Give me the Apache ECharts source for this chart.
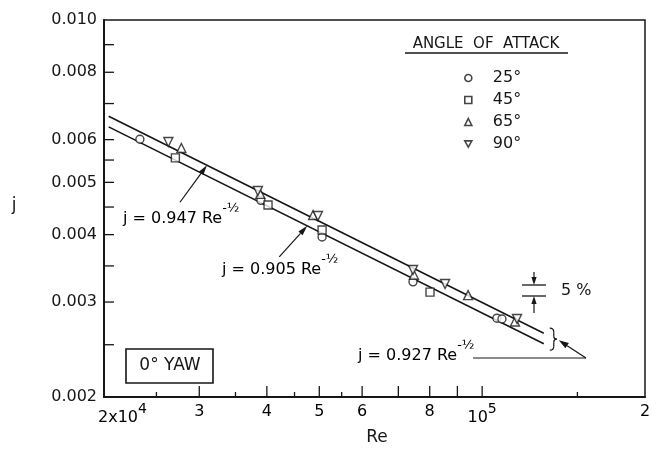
<!DOCTYPE html>
<html>
<head>
<meta charset="utf-8">
<script src="https://cdn.jsdelivr.net/npm/echarts@6/dist/echarts.min.js"></script>
<style>
html, body { margin: 0; padding: 0; background: #fff; }
#chart { width: 652px; height: 451px; }
</style>
</head>
<body>
<div id="chart"></div>
<script>
// Heat-transfer j factor versus Reynolds number, 0 deg yaw
const FONT = '"DejaVu Sans", sans-serif';
const INK = '#161616';

const reMin = 2e4, reMax = 2e5;
const jMin = 0.002, jMax = 0.010;

// Measured points by angle of attack
const re25 = [23300, 39000, 50600, 74500, 106500, 108800];
const j25  = [0.00601, 0.00463, 0.00396, 0.00327, 0.00280, 0.00279];
const re45 = [27100, 40200, 50600, 80100];
const j45  = [0.00555, 0.00454, 0.00408, 0.00313];
const re65 = [27800, 38900, 48700, 74800, 94200, 115000];
const j65  = [0.00579, 0.00476, 0.00435, 0.00337, 0.00309, 0.00276];
const re90 = [26300, 38500, 49700, 74500, 85400, 116000];
const j90  = [0.00594, 0.00482, 0.00433, 0.00344, 0.00324, 0.00279];

// Correlations j = C * Re^(-1/2)
const fitCoefs = [0.947, 0.905];
const fitReRange = [20400, 130000];

// Axis ticks and labels
const xTicksLong  = [30000, 40000, 50000, 60000, 70000, 80000, 90000, 100000];
const xTicksShort = [25000, 35000, 45000, 55000, 150000];
const xLabelValues = [20000, 30000, 40000, 50000, 60000, 80000, 100000, 200000];
const xLabelBase   = ['2x10', '3', '4', '5', '6', '8', '10', '2'];
const xLabelSup    = ['4', '', '', '', '', '', '5', ''];
const yTicks = [0.0025, 0.003, 0.0035, 0.004, 0.0045, 0.005, 0.0055, 0.006, 0.007, 0.008, 0.009];
const yLabelValues = [0.002, 0.003, 0.004, 0.005, 0.006, 0.008, 0.010];
const yLabelText   = ['0.002', '0.003', '0.004', '0.005', '0.006', '0.008', '0.010'];

const seriesNames = ['25°', '45°', '65°', '90°'];

const zip = (a, b) => a.map((v, i) => [v, b[i]]);

const chart = echarts.init(document.getElementById('chart'), null, { renderer: 'canvas' });

const markerStyle = { color: '#fff', borderColor: INK, borderWidth: 1.4 };

function scatter(name, re, j, symbol, size, rotate) {
  return {
    name: name, type: 'scatter', data: zip(re, j),
    symbol: symbol, symbolSize: size, symbolRotate: rotate || 0,
    itemStyle: markerStyle, z: 5, silent: true
  };
}

function fitLine(c) {
  return {
    type: 'line', silent: true, showSymbol: false, z: 3,
    data: fitReRange.map(r => [r, c / Math.sqrt(r)]),
    lineStyle: { color: INK, width: 1.6 }
  };
}

const downTriangle = 'path://M0,0 L10,0 L5,9 Z';

const option = {
  animation: false,
  backgroundColor: '#fff',
  grid: { left: 104, right: 7, top: 20, bottom: 54, show: true, borderColor: INK, borderWidth: 1.5 },
  xAxis: {
    type: 'log', logBase: 10, min: reMin, max: reMax,
    axisLine: { show: true, lineStyle: { color: INK, width: 2 } },
    axisTick: { show: false }, axisLabel: { show: false }, splitLine: { show: false }
  },
  yAxis: {
    type: 'log', logBase: 10, min: jMin, max: jMax,
    axisLine: { show: true, lineStyle: { color: INK, width: 2 } },
    axisTick: { show: false }, axisLabel: { show: false }, splitLine: { show: false }
  },
  legend: {
    data: [
      { name: seriesNames[0], icon: 'circle' },
      { name: seriesNames[1], icon: 'rect' },
      { name: seriesNames[2], icon: 'triangle' },
      { name: seriesNames[3], icon: downTriangle }
    ],
    orient: 'vertical', left: 459, top: 65,
    itemWidth: 7, itemHeight: 7, itemGap: 6,
    itemStyle: { color: '#fff', borderColor: INK, borderWidth: 1.6 },
    formatter: name => '{s|}{t|' + name + '}',
    textStyle: {
      color: INK, fontFamily: FONT, fontSize: 16, lineHeight: 16,
      rich: { s: { width: 16 }, t: { fontFamily: FONT, fontSize: 16, color: INK } }
    },
    selectedMode: false
  },
  series: [
    fitLine(fitCoefs[0]),
    fitLine(fitCoefs[1]),
    scatter(seriesNames[0], re25, j25, 'circle', 8),
    scatter(seriesNames[1], re45, j45, 'rect', 8),
    scatter(seriesNames[2], re65, j65, 'triangle', 9),
    scatter(seriesNames[3], re90, j90, 'triangle', 9, 180),
    {
      // inward ticks on the Re axis
      type: 'custom', silent: true, clip: false, z: 6,
      data: xTicksLong.map(v => [v, 1]).concat(xTicksShort.map(v => [v, 0])),
      renderItem: (params, api) => {
        const p = api.coord([api.value(0), jMin]);
        const len = api.value(1) ? 11 : 5;
        return { type: 'line', shape: { x1: p[0], y1: p[1], x2: p[0], y2: p[1] - len },
                 style: { stroke: INK, lineWidth: 1.3 } };
      }
    },
    {
      // inward ticks on the j axis
      type: 'custom', silent: true, clip: false, z: 6,
      data: yTicks.map(v => [reMin, v]),
      renderItem: (params, api) => {
        const p = api.coord([reMin, api.value(1)]);
        return { type: 'line', shape: { x1: p[0], y1: p[1], x2: p[0] + 10, y2: p[1] },
                 style: { stroke: INK, lineWidth: 1.3 } };
      }
    },
    {
      // Re tick labels
      type: 'custom', silent: true, clip: false, z: 6,
      data: xLabelValues.map((v, i) => [v, jMin, i]),
      renderItem: (params, api) => {
        const i = api.value(2);
        const p = api.coord([api.value(0), jMin]);
        const base = xLabelBase[i], sup = xLabelSup[i];
        const first = i === 0;
        return {
          type: 'text',
          x: first ? p[0] - 6 : p[0], y: p[1] + (sup ? 17 : 15),
          style: {
            text: '{b|' + base + '}' + (sup ? '{s|' + sup + '}' : ''),
            align: first ? 'left' : 'center', verticalAlign: 'middle',
            rich: {
              b: { fontFamily: FONT, fontSize: 16, color: INK, lineHeight: sup ? 24 : 16, verticalAlign: sup ? 'bottom' : 'middle' },
              s: { fontFamily: FONT, fontSize: 14, color: INK, lineHeight: 16, verticalAlign: 'top' }
            }
          }
        };
      }
    },
    {
      // j tick labels
      type: 'custom', silent: true, clip: false, z: 6,
      data: yLabelValues.map((v, i) => [reMin, v, i]),
      renderItem: (params, api) => {
        const p = api.coord([reMin, api.value(1)]);
        return {
          type: 'text', x: p[0] - 7, y: p[1],
          style: { text: yLabelText[api.value(2)], font: '16px ' + FONT, fill: INK,
                   align: 'right', verticalAlign: 'middle' }
        };
      }
    }
  ]
};

chart.setOption(option);

// Annotations placed relative to the plotted correlations
const px = (re, j) => chart.convertToPixel({ xAxisIndex: 0, yAxisIndex: 0 }, [re, j]);
const onFit = (c, re) => px(re, c / Math.sqrt(re));

function arrow(x0, y0, x1, y1, headLen, headW) {
  const dx = x1 - x0, dy = y1 - y0, L = Math.hypot(dx, dy);
  const ux = dx / L, uy = dy / L;
  const bx = x1 - ux * headLen, by = y1 - uy * headLen;
  return [
    { type: 'line', shape: { x1: x0, y1: y0, x2: bx, y2: by }, style: { stroke: INK, lineWidth: 1.2 } },
    { type: 'polygon', shape: { points: [[x1, y1], [bx - uy * headW, by + ux * headW], [bx + uy * headW, by - ux * headW]] },
      style: { fill: INK } }
  ];
}

function eqLabel(x, y, coef) {
  return {
    type: 'text', x: x, y: y,
    style: {
      text: '{m|j = ' + coef + ' Re}{s|-½}',
      align: 'left', verticalAlign: 'middle',
      rich: {
        m: { fontFamily: FONT, fontSize: 16, color: INK, lineHeight: 34 },
        s: { fontFamily: FONT, fontSize: 13, color: INK, lineHeight: 13, verticalAlign: 'top' }
      }
    }
  };
}

function curve(x1, y1, cx, cy, x2, y2) {
  return { type: 'bezierCurve', shape: { x1: x1, y1: y1, cpx1: cx, cpy1: cy, x2: x2, y2: y2 },
           style: { stroke: INK, fill: null, lineWidth: 1.2 } };
}
function seg(x1, y1, x2, y2, w) {
  return { type: 'line', shape: { x1: x1, y1: y1, x2: x2, y2: y2 }, style: { stroke: INK, lineWidth: w || 1.2 } };
}

const tipUpper = onFit(fitCoefs[0], 31000);
const tipLower = onFit(fitCoefs[1], 47500);
const endMid = px(fitReRange[1], 0.927 / Math.sqrt(fitReRange[1]));

const bx = endMid[0] + 6, by = endMid[1] + 1;
const pctX = 522, pctTop = 285, pctGap = 11;

const graphics = []
  .concat(arrow(tipUpper[0] - 27, tipUpper[1] + 37, tipUpper[0], tipUpper[1], 10, 2.8))
  .concat(arrow(tipLower[0] - 28, tipLower[1] + 31, tipLower[0], tipLower[1], 10, 2.8))
  .concat([
    eqLabel(123, 219, '0.947'),
    eqLabel(222, 270, '0.905'),
    eqLabel(358, 356, '0.927'),
    // brace grouping both correlations
    curve(bx, by - 11, bx + 4, by - 11, bx + 4, by - 7),
    seg(bx + 4, by - 7, bx + 4, by - 3),
    curve(bx + 4, by - 3, bx + 4, by, bx + 7, by),
    curve(bx + 7, by, bx + 4, by, bx + 4, by + 3),
    seg(bx + 4, by + 3, bx + 4, by + 7),
    curve(bx + 4, by + 7, bx + 4, by + 11, bx, by + 11),
    seg(473, 358, 586, 358)
  ])
  .concat(arrow(586, 358, bx + 9, by + 1, 10, 3.2))
  .concat([
    // 5 % scatter band
    seg(pctX, pctTop, pctX + 24, pctTop, 1.3),
    seg(pctX, pctTop + pctGap, pctX + 24, pctTop + pctGap, 1.3)
  ])
  .concat(arrow(pctX + 12, pctTop - 13, pctX + 12, pctTop, 8, 2.6))
  .concat(arrow(pctX + 12, pctTop + pctGap + 17, pctX + 12, pctTop + pctGap, 8, 2.6))
  .concat([
    { type: 'text', x: 561, y: 291, style: { text: '5 %', font: '16px ' + FONT, fill: INK, align: 'left', verticalAlign: 'middle' } },
    // legend heading
    { type: 'text', x: 486, y: 44, style: { text: 'ANGLE  OF  ATTACK', font: '15px ' + FONT, fill: INK, align: 'center', verticalAlign: 'middle' } },
    seg(405, 53, 568, 53, 1.3),
    // yaw condition box
    { type: 'rect', shape: { x: 126, y: 349, width: 87, height: 34 }, style: { stroke: INK, fill: '#fff', lineWidth: 1.6 } },
    { type: 'text', x: 170, y: 366, style: { text: '0° YAW', font: '17px ' + FONT, fill: INK, align: 'center', verticalAlign: 'middle' } },
    // axis names
    { type: 'text', x: 14, y: 206, style: { text: 'j', font: '17px ' + FONT, fill: INK, align: 'center', verticalAlign: 'middle' } },
    { type: 'text', x: 377, y: 438, style: { text: 'Re', font: '17px ' + FONT, fill: INK, align: 'center', verticalAlign: 'middle' } }
  ]);

chart.setOption({ graphic: { elements: graphics.map(g => Object.assign({ silent: true, z: 10 }, g)) } });
</script>
</body>
</html>
